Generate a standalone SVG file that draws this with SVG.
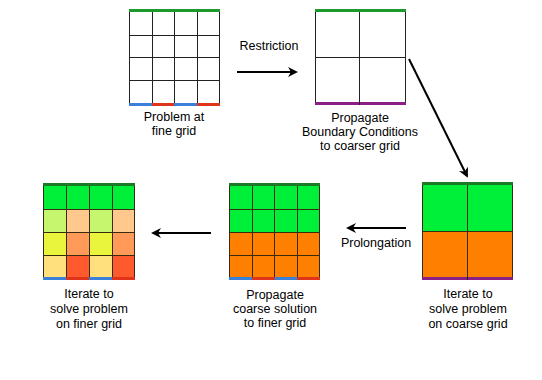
<svg xmlns="http://www.w3.org/2000/svg" width="542" height="380" viewBox="0 0 542 380">
<style>
.lbl{font-family:"Liberation Sans",Arial,sans-serif;font-size:12.5px;fill:#000;text-anchor:middle}
.gl{stroke:#222;stroke-width:1;fill:none}
.gc{stroke:#3a2a10;stroke-width:1;fill:none}
.con{stroke:#000;stroke-width:2;fill:none;marker-end:url(#ah)}
</style>
<defs>
<marker id="ah" viewBox="0 0 10 10" refX="8" refY="5" markerWidth="5" markerHeight="5" orient="auto" markerUnits="strokeWidth">
<path d="M0,0 L10,5 L0,10 L3,5 Z" fill="#000"/>
</marker>
</defs>
<rect width="542" height="380" fill="#fff"/>

<g id="fine-grid">
<rect x="129" y="12" width="91" height="91" fill="#fff"/>
<path class="gl" d="M129.5,12V103M152.5,12V103M174.5,12V103M197.5,12V103M219.5,12V103M129,35.5H220M129,57.5H220M129,80.5H220"/>
<rect x="129" y="9" width="91" height="3" fill="#1d9a2e"/>
<rect x="129" y="103" width="23" height="3" fill="#3a7fd8"/>
<rect x="152" y="103" width="22" height="3" fill="#e0341a"/>
<rect x="174" y="103" width="23" height="3" fill="#3a7fd8"/>
<rect x="197" y="103" width="23" height="3" fill="#e0341a"/>
<text class="lbl" x="174" y="121">Problem at</text>
<text class="lbl" x="174" y="135">fine grid</text>
</g>

<g id="coarse-grid">
<rect x="315" y="12" width="91" height="90" fill="#fff"/>
<path class="gl" d="M315.5,12V102M359.5,12V102M405.5,12V102M315,57.5H406"/>
<rect x="315" y="9" width="91" height="3" fill="#1d9a2e"/>
<rect x="315" y="102" width="91" height="3" fill="#8a1f86"/>
<line x1="359.5" y1="102" x2="359.5" y2="105" stroke="#222"/>
<text class="lbl" x="360" y="122">Propagate</text>
<text class="lbl" x="360" y="136">Boundary Conditions</text>
<text class="lbl" x="360" y="150">to coarser grid</text>
</g>

<g id="coarse-solve">
<rect x="422" y="185" width="91" height="46" fill="#00f03a"/>
<rect x="422" y="231" width="91" height="46" fill="#ff7f00"/>
<path class="gc" d="M422.5,185V277M467.5,185V280M512.5,185V277M422,231.5H513"/>
<rect x="422" y="182" width="91" height="3" fill="#1a7a26"/>
<rect x="422" y="277" width="91" height="3" fill="#8a1f86"/>
<line x1="467.5" y1="277" x2="467.5" y2="280" stroke="#222"/>
<text class="lbl" x="468" y="298">Iterate to</text>
<text class="lbl" x="468" y="313">solve problem</text>
<text class="lbl" x="468" y="328">on coarse grid</text>
</g>

<g id="propagate-fine">
<rect x="229" y="186" width="91" height="46" fill="#00f03a"/>
<rect x="229" y="232" width="91" height="45" fill="#ff7f00"/>
<path class="gc" d="M229.5,186V277M252.5,186V277M274.5,186V277M297.5,186V277M319.5,186V277M229,209.5H320M229,232.5H320M229,255.5H320"/>
<rect x="229" y="183" width="91" height="3" fill="#1a7a26"/>
<rect x="229" y="277" width="23" height="3" fill="#3a7fd8"/>
<rect x="252" y="277" width="23" height="3" fill="#e0341a"/>
<rect x="275" y="277" width="22" height="3" fill="#3a7fd8"/>
<rect x="297" y="277" width="23" height="3" fill="#e0341a"/>
<text class="lbl" x="275" y="299">Propagate</text>
<text class="lbl" x="275" y="313">coarse solution</text>
<text class="lbl" x="275" y="327">to finer grid</text>
</g>

<g id="fine-solve">
<rect x="43" y="186" width="92" height="23" fill="#00f03a"/>
<rect x="43" y="209" width="23" height="23" fill="#c6f56e"/>
<rect x="66" y="209" width="23" height="23" fill="#ffc88c"/>
<rect x="89" y="209" width="23" height="23" fill="#c6f56e"/>
<rect x="112" y="209" width="23" height="23" fill="#ffc88c"/>
<rect x="43" y="232" width="23" height="23" fill="#e8f53c"/>
<rect x="66" y="232" width="23" height="23" fill="#ff9a58"/>
<rect x="89" y="232" width="23" height="23" fill="#e8f53c"/>
<rect x="112" y="232" width="23" height="23" fill="#ff9a58"/>
<rect x="43" y="255" width="23" height="22" fill="#ffe07c"/>
<rect x="66" y="255" width="23" height="22" fill="#ff5a2e"/>
<rect x="89" y="255" width="23" height="22" fill="#ffe07c"/>
<rect x="112" y="255" width="23" height="22" fill="#ff5a2e"/>
<path class="gc" d="M43.5,186V277M66.5,186V277M89.5,186V277M112.5,186V277M134.5,186V277M43,209.5H135M43,232.5H135M43,255.5H135"/>
<rect x="43" y="183" width="92" height="3" fill="#1a7a26"/>
<rect x="43" y="277" width="23" height="3" fill="#3a7fd8"/>
<rect x="66" y="277" width="23" height="3" fill="#e0341a"/>
<rect x="89" y="277" width="23" height="3" fill="#3a7fd8"/>
<rect x="112" y="277" width="23" height="3" fill="#e0341a"/>
<text class="lbl" x="89" y="298">Iterate to</text>
<text class="lbl" x="89" y="313">solve problem</text>
<text class="lbl" x="89" y="328">on finer grid</text>
</g>

<g id="connectors">
<line class="con" x1="237" y1="72" x2="296" y2="72"/>
<text class="lbl" x="269" y="50">Restriction</text>
<line class="con" x1="409" y1="59" x2="467" y2="176"/>
<line class="con" x1="406" y1="228" x2="348" y2="228"/>
<text class="lbl" x="376" y="247">Prolongation</text>
<line class="con" x1="211" y1="233" x2="153" y2="233"/>
</g>
</svg>
